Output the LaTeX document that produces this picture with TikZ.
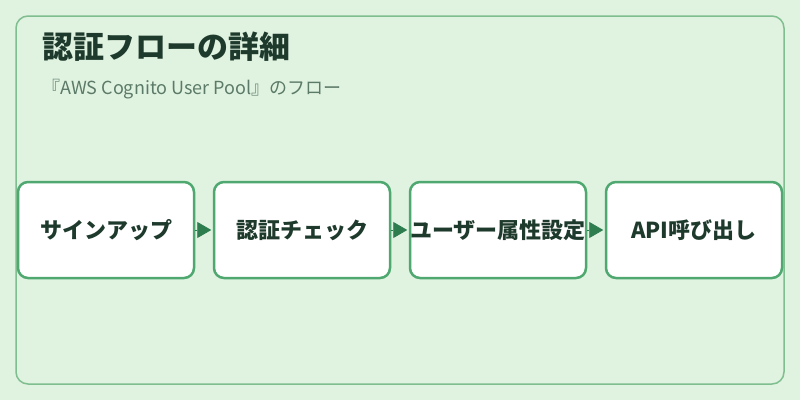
\documentclass[tikz,border=0pt]{standalone}
\usepackage{fontspec}
\setmainfont{Noto Sans CJK JP}
\usetikzlibrary{arrows.meta}
\definecolor{bgfill}{HTML}{E0F2E0}
\definecolor{frameline}{HTML}{7FBF8F}
\definecolor{boxline}{HTML}{4FA86F}
\definecolor{darktext}{HTML}{1E3A2C}
\definecolor{subtext}{HTML}{5C7A68}
\definecolor{arrowfill}{HTML}{2E7D4F}
\tikzset{
  stepbox/.style={draw=boxline,line width=2.5pt,fill=white,rounded corners=10pt,
    minimum width=176pt,minimum height=96pt,inner sep=0pt,
    font=\fontsize{22pt}{26pt}\selectfont\bfseries,text=darktext},
  flowarrow/.style={draw=arrowfill,line width=0.8pt,-{Triangle[length=14pt,width=16pt]},shorten >=1.5pt}
}
\begin{document}
\begin{tikzpicture}[x=1pt,y=1pt,yscale=-1,xscale=1]
			%Shape: Background
			\fill[bgfill] (0,0) rectangle (800,400);
			\useasboundingbox (0,0) rectangle (800,400);
			%Shape: Frame
			\draw[frameline,line width=1.5pt,rounded corners=12pt] (16,16) rectangle (784,384);
			% Text Node
			\node[anchor=west,inner sep=0pt,font=\fontsize{31pt}{35pt}\selectfont\bfseries,text=darktext] (title) at (42,47) {認証フローの詳細};
			% Text Node
			\node[anchor=west,inner sep=0pt,font=\fontsize{18pt}{22pt}\selectfont,text=subtext] (subtitle) at (42,89) {『AWS Cognito User Pool』のフロー};
			% Boxes
			\node[stepbox] (signup) at (106,230) {サインアップ};
			\node[stepbox] (authcheck) at (302,230) {認証チェック};
			\node[stepbox] (attrset) at (498,230) {ユーザー属性設定};
			\node[stepbox] (apicall) at (694,230) {API呼び出し};
			% Arrows
			\draw[flowarrow] (signup) -- (authcheck);
			\draw[flowarrow] (authcheck) -- (attrset);
			\draw[flowarrow] (attrset) -- (apicall);
\end{tikzpicture}
\end{document}
